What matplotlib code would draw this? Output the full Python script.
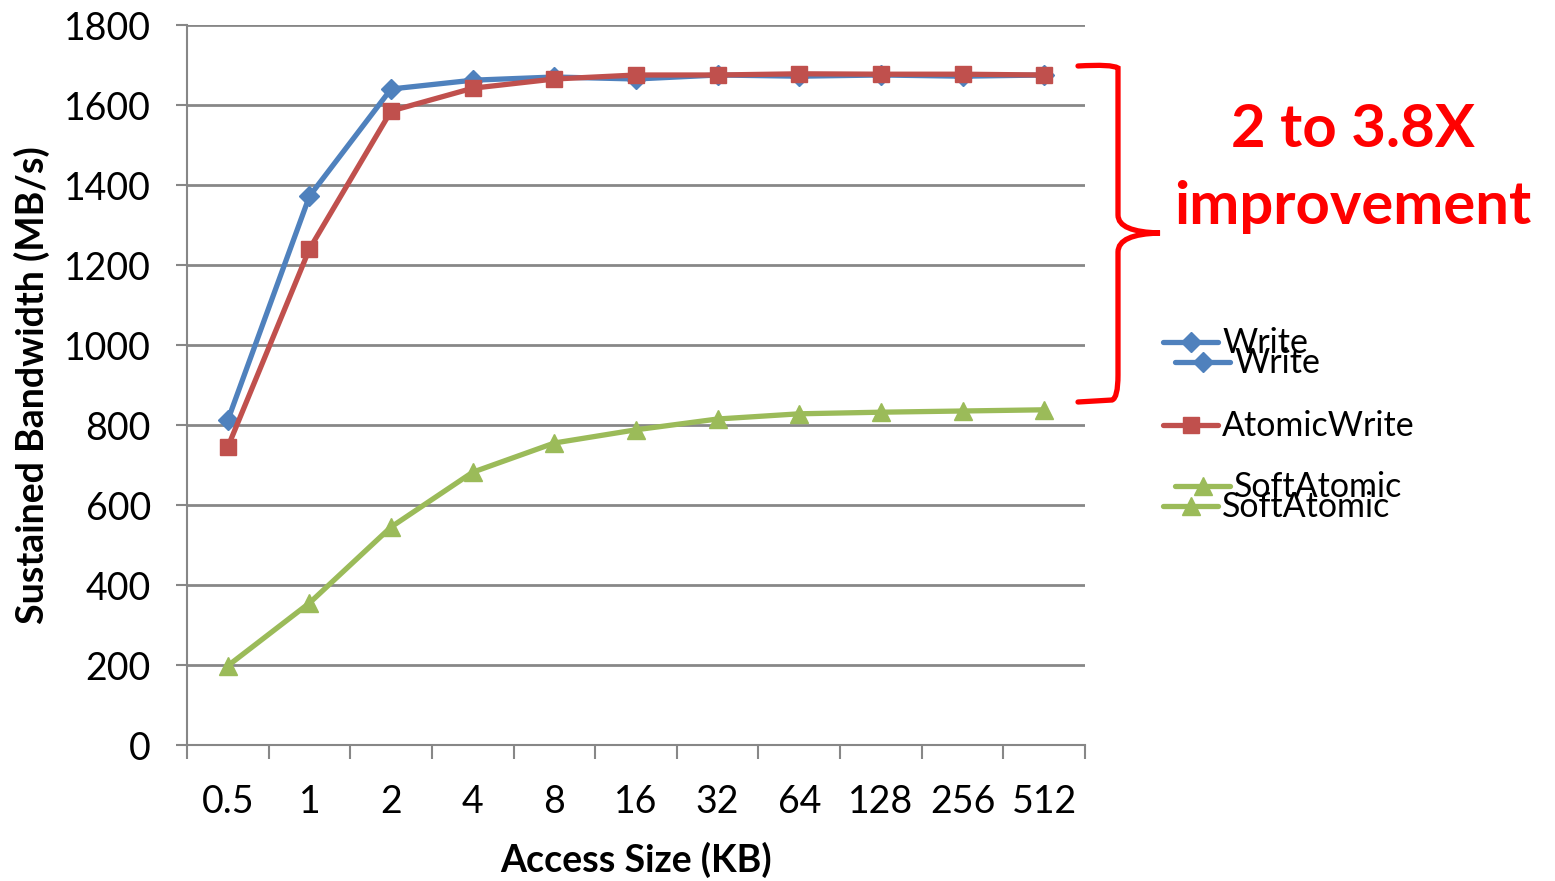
import numpy as np
import matplotlib.pyplot as plt
from matplotlib.lines import Line2D
from matplotlib.path import Path
from matplotlib.patches import PathPatch
from matplotlib.transforms import Affine2D

plt.rcParams['font.family'] = ['Lato', 'DejaVu Sans']

# tamanhos de acesso (KB) e banda sustentada (MB/s)
tamanhos = ['0.5', '1', '2', '4', '8', '16', '32', '64', '128', '256', '512']
write = [812, 1372, 1640, 1662, 1670, 1665, 1675, 1672, 1675, 1672, 1675]
atomic_write = [745, 1240, 1585, 1642, 1665, 1675, 1675, 1678, 1677, 1677, 1675]
soft_atomic = [198, 355, 545, 682, 755, 788, 815, 828, 832, 835, 838]

azul = '#4F81BD'
vermelho = '#C0504D'
verde = '#9BBB59'
cinza = '#878787'

W, H = 1555, 881
fig = plt.figure(figsize=(W / 100, H / 100), dpi=100)
ax = fig.add_axes([187 / W, (H - 745) / H, (1085 - 187) / W, (745 - 25) / H])

x = np.arange(len(tamanhos))
ax.plot(x, write, '-D', color=azul, lw=3.8, ms=10, zorder=3)
ax.plot(x, atomic_write, '-s', color=vermelho, lw=3.8, ms=12, zorder=3)
ax.plot(x, soft_atomic, '-^', color=verde, lw=3.8, ms=13, zorder=3)

ax.set_xlim(-0.5, len(tamanhos) - 0.5)
ax.set_ylim(0, 1800)
ax.set_yticks(np.arange(0, 1801, 200))
ax.set_xticks(x)
ax.set_xticklabels(tamanhos)
ax.set_xticks(np.arange(-0.5, len(tamanhos)), minor=True)
ax.tick_params(axis='x', which='major', length=0, pad=28, labelsize=27)
ax.tick_params(axis='x', which='minor', length=10, width=1.5, color=cinza, direction='out')
ax.tick_params(axis='y', length=8, width=1.5, color=cinza, labelsize=27, pad=18)

ax.grid(axis='y', color=cinza, lw=2)
ax.set_axisbelow(True)
for lado in ['top', 'right']:
    ax.spines[lado].set_visible(False)
for lado in ['left', 'bottom']:
    ax.spines[lado].set_color(cinza)
    ax.spines[lado].set_linewidth(1.5)

ax.set_xlabel('Access Size (KB)', fontsize=27, fontweight='bold', labelpad=16)
ax.set_ylabel('Sustained Bandwidth (MB/s)', fontsize=27, fontweight='bold', labelpad=10)

# coordenadas em pixels (origem no topo)
px = Affine2D().scale(1, -1).translate(0, H).scale(1 / W, 1 / H) + fig.transFigure

# chave vermelha
verts = [(1078, 66), (1112, 64), (1118, 68), (1118, 90),
         (1118, 215), (1118, 232), (1160, 233),
         (1118, 234), (1118, 252),
         (1118, 375), (1118, 398), (1112, 400), (1078, 402)]
codes = [Path.MOVETO, Path.CURVE3, Path.CURVE3, Path.LINETO,
         Path.LINETO, Path.CURVE3, Path.CURVE3,
         Path.CURVE3, Path.CURVE3,
         Path.LINETO, Path.CURVE3, Path.CURVE3, Path.LINETO]
fig.add_artist(PathPatch(Path(verts, codes), transform=px, fill=False,
                         edgecolor='#FF0000', lw=3.8, capstyle='round'))

fig.text(1353 / W, 1 - 130 / H, '2 to 3.8X', color='#FF0000', fontsize=43,
         fontweight='bold', ha='center', va='center')
fig.text(1353 / W, 1 - 207 / H, 'improvement', color='#FF0000', fontsize=43,
         fontweight='bold', ha='center', va='center')

# legenda desenhada a mao (entradas repetidas)
legenda = [('Write', azul, 'D', 10, 1163, 342),
           ('Write', azul, 'D', 10, 1175, 362),
           ('AtomicWrite', vermelho, 's', 12, 1163, 425),
           ('SoftAtomic', verde, '^', 13, 1175, 486),
           ('SoftAtomic', verde, '^', 13, 1163, 506)]
for nome, cor, marc, tam, x0, y0 in legenda:
    fig.add_artist(Line2D([x0, x0 + 55], [y0, y0], transform=px, color=cor,
                          lw=3.8, solid_capstyle='round'))
    fig.add_artist(Line2D([x0 + 27.5], [y0], transform=px, color=cor,
                          marker=marc, ms=tam, lw=0))
    fig.text((x0 + 59) / W, 1 - (y0 + 1) / H, nome, fontsize=24.5,
             ha='left', va='center')

fig.savefig('out.png', dpi=100)
